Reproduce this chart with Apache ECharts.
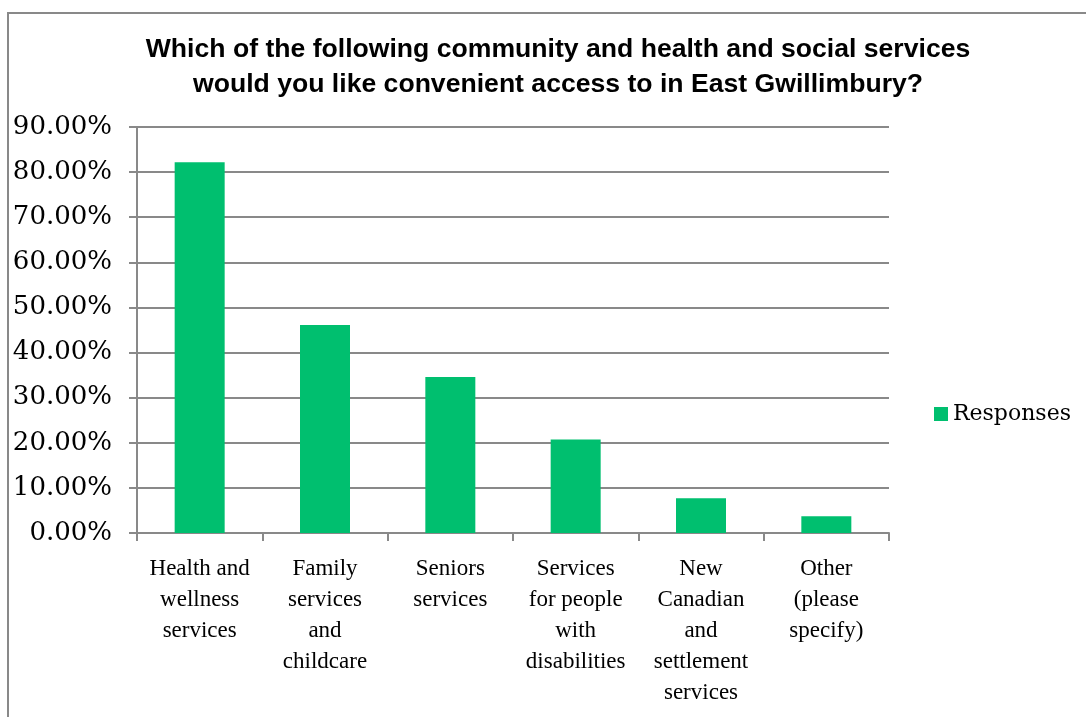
<!DOCTYPE html>
<html>
<head>
<meta charset="utf-8">
<script src="https://cdn.jsdelivr.net/npm/echarts@6/dist/echarts.min.js"></script>
<style>
  html, body { margin: 0; padding: 0; background: #fff; }
  #chart { width: 1086px; height: 717px; }
  #frame {
    position: absolute; left: 7px; top: 12px; right: -4px; bottom: -4px;
    border: 2px solid #898989; pointer-events: none;
  }
</style>
</head>
<body>
<div id="chart"></div>
<div id="frame"></div>
<script>
const categories = [
  'Health and\nwellness\nservices',
  'Family\nservices\nand\nchildcare',
  'Seniors\nservices',
  'Services\nfor people\nwith\ndisabilities',
  'New\nCanadian\nand\nsettlement\nservices',
  'Other\n(please\nspecify)'
]
const responses = [0.822, 0.461, 0.346, 0.207, 0.077, 0.037]

const chart = echarts.init(document.getElementById('chart'))

chart.setOption({
  animation: false,
  title: {
    text: 'Which of the following community and health and social services\nwould you like convenient access to in East Gwillimbury?',
    left: 553,
    top: 27,
    textAlign: 'center',
    textStyle: {
      fontFamily: 'Liberation Sans',
      fontWeight: 'bold',
      fontSize: 26.6,
      lineHeight: 35,
      color: '#000'
    }
  },
  legend: {
    data: ['Responses'],
    left: 929,
    top: 398,
    itemWidth: 14,
    itemHeight: 14,
    itemGap: 8,
    icon: 'rect',
    textStyle: { fontFamily: 'DejaVu Serif', fontSize: 22, color: '#000' }
  },
  grid: { left: 137, right: 197, top: 127, bottom: 184, containLabel: false },
  xAxis: {
    type: 'category',
    data: categories,
    axisLine: { lineStyle: { color: '#898989', width: 2 } },
    axisTick: { show: true, length: 8, lineStyle: { color: '#898989', width: 2 } },
    axisLabel: {
      interval: 0,
      margin: 20,
      fontFamily: 'Liberation Serif',
      fontSize: 23,
      lineHeight: 31,
      color: '#000'
    }
  },
  yAxis: {
    type: 'value',
    min: 0,
    max: 0.9,
    interval: 0.1,
    axisLine: { show: true, lineStyle: { color: '#898989', width: 2 } },
    axisTick: { show: true, length: 8, lineStyle: { color: '#898989', width: 2 } },
    splitLine: { lineStyle: { color: '#898989', width: 2 } },
    axisLabel: {
      margin: 25,
      fontFamily: 'DejaVu Serif',
      fontSize: 26,
      color: '#000',
      formatter: v => (v * 100).toFixed(2) + '%'
    }
  },
  series: [
    {
      name: 'Responses',
      type: 'bar',
      data: responses,
      barWidth: 50,
      itemStyle: { color: '#00BF6F' }
    }
  ]
})
</script>
</body>
</html>
